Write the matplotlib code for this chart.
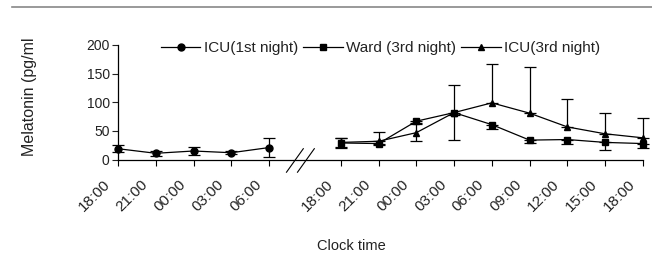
import matplotlib.pyplot as plt
import matplotlib.transforms as mtransforms
from matplotlib.lines import Line2D

plt.rcParams['font.family'] = ['Liberation Sans', 'DejaVu Sans']

# first night (left part of the axis) and third night (right part)
left_labels = ['18:00', '21:00', '00:00', '03:00', '06:00']
right_labels = ['18:00', '21:00', '00:00', '03:00', '06:00', '09:00', '12:00', '15:00', '18:00']
left_pos = [0, 1, 2, 3, 4]
right_pos = [5.9, 6.9, 7.9, 8.9, 9.9, 10.9, 11.9, 12.9, 13.9]

icu1 = [19, 11, 15, 12, 21]
icu1_err = [6, 4, 7, 3, 16]

ward3 = [29, 28, 67, 82, 61, 34, 35, 30, 28]
ward3_lo = [8, 3, 4, 4, 8, 5, 8, 13, 7]
ward3_hi = [8, 0, 0, 0, 0, 0, 0, 0, 0]

icu3 = [30, 32, 47, 82, 99, 81, 57, 45, 38]
icu3_lo = [8, 0, 15, 48, 0, 0, 0, 0, 0]
icu3_hi = [8, 17, 15, 48, 68, 80, 49, 36, 35]

txt = '#222222'

fig = plt.figure(figsize=(6.52, 2.57), dpi=100)
ax = fig.add_axes([0.181, 0.379, 0.805, 0.446])

kw = dict(color='black', lw=0.9, ms=5, capsize=4, elinewidth=0.9, capthick=0.9)
series = [
    ax.errorbar(left_pos, icu1, yerr=icu1_err, marker='o', **kw),
    ax.errorbar(right_pos, ward3, yerr=[ward3_lo, ward3_hi], marker='s', **kw),
    ax.errorbar(right_pos, icu3, yerr=[icu3_lo, icu3_hi], marker='^', **kw),
]
for c in series:
    for art in c.get_children():
        art.set_clip_on(False)

ax.set_xlim(0, 13.9)
ax.set_ylim(0, 200)
ax.set_yticks([0, 50, 100, 150, 200])
ax.set_xticks(left_pos + right_pos)
ax.set_xticklabels(left_labels + right_labels, rotation=45, ha='right', va='center',
                   rotation_mode='anchor', fontsize=11, color=txt)
ax.tick_params(axis='y', labelsize=10, colors=txt, length=4, width=0.8, pad=2)
ax.tick_params(axis='x', length=4.5, width=0.8, pad=12)
ax.spines['top'].set_visible(False)
ax.spines['right'].set_visible(False)
for s in ('left', 'bottom'):
    ax.spines[s].set_linewidth(0.9)

ax.set_ylabel('Melatonin (pg/ml', fontsize=11.5, color=txt)
ax.yaxis.set_label_coords(-0.154, 0.55)
ax.set_xlabel('Clock time', fontsize=10.5, color=txt)
ax.xaxis.set_label_coords(0.444, -0.69)

# axis break marks
for bx in (0.337, 0.358):
    ax.add_line(Line2D([bx - 0.016, bx + 0.016], [-0.11, 0.095], transform=ax.transAxes,
                       color='black', lw=0.8, clip_on=False))

handles = [Line2D([], [], color='black', lw=0.9, marker=m, ms=5) for m in ('o', 's', '^')]
names = ['ICU(1st night)', 'Ward (3rd night)', 'ICU(3rd night)']
leg = ax.legend(handles, names, loc='center', bbox_to_anchor=(0.5, 0.974), ncol=3,
                frameon=False, fontsize=11, handlelength=2.6, columnspacing=0.35,
                handletextpad=0.2, borderpad=0)
for t in leg.get_texts():
    t.set_color(txt)

# rule at the top of the figure
fig.add_artist(Line2D([0.018, 1.0], [0.973, 0.973], transform=fig.transFigure,
                      color='#888888', lw=1.2))

# nudge the rotated tick labels left so they end just before each tick
fig.canvas.draw()
shift = mtransforms.ScaledTranslation(-10 / 100, 0, fig.dpi_scale_trans)
for lab in ax.get_xticklabels():
    lab.set_transform(lab.get_transform() + shift)

fig.savefig('out.png', dpi=100)
